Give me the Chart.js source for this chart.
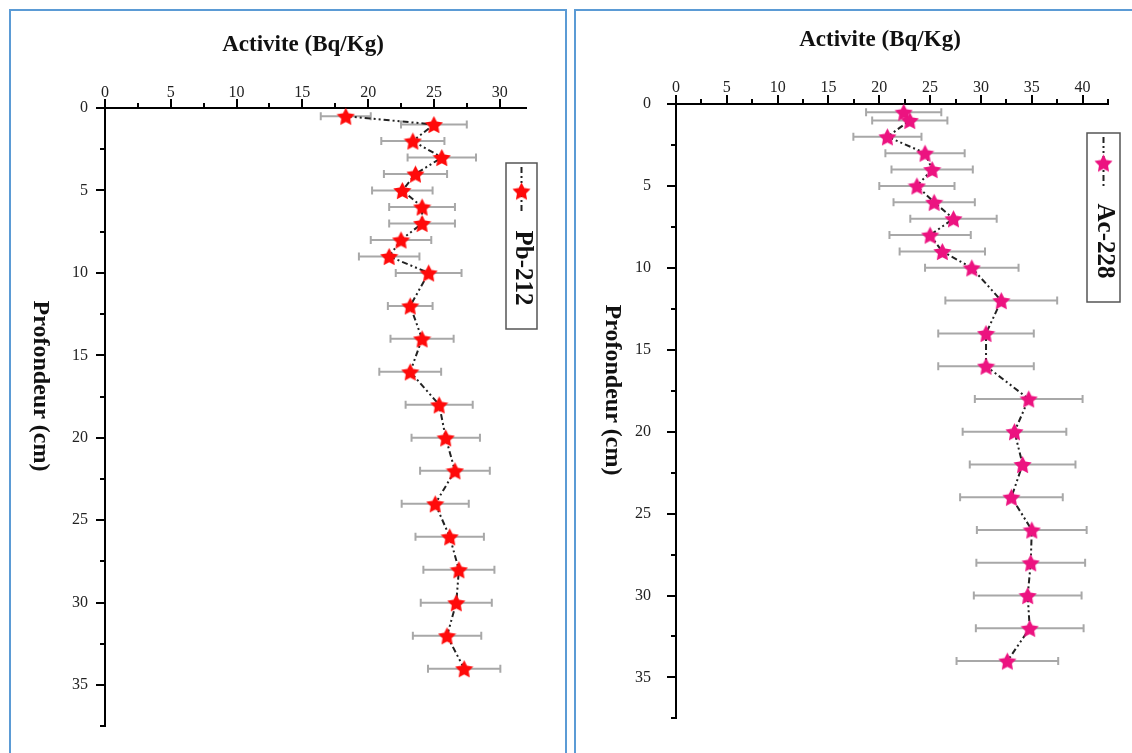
<!DOCTYPE html>
<html>
<head>
<meta charset="utf-8">
<script src="https://cdn.jsdelivr.net/npm/chart.js@4.4.1/dist/chart.umd.min.js"></script>
<style>
  body { margin: 0; background: #fff; width: 1132px; height: 753px; overflow: hidden; position: relative; }
  .panel { position: absolute; border: 2.5px solid #5b9bd5; border-bottom: none; }
  canvas { position: absolute; top: 0; }
</style>
</head>
<body>
<div class="panel" style="left:9px;top:9px;width:554px;height:760px"></div>
<div class="panel" style="left:574px;top:9px;width:570px;height:760px"></div>
<canvas id="pb" style="left:0" width="566" height="753"></canvas>
<canvas id="ac" style="left:570px" width="562" height="753"></canvas>
<script>
// depth of each sample (cm)
const depths = [0.5, 1, 2, 3, 4, 5, 6, 7, 8, 9, 10, 12, 14, 16, 18, 20, 22, 24, 26, 28, 30, 32, 34];

// Pb-212 activity (Bq/Kg) and its uncertainty
const pbActivity = [18.3, 25.0, 23.4, 25.6, 23.6, 22.6, 24.1, 24.1, 22.5, 21.6, 24.6, 23.2, 24.1, 23.2, 25.4, 25.9, 26.6, 25.1, 26.2, 26.9, 26.7, 26.0, 27.3];
const pbError = [1.9, 2.5, 2.4, 2.6, 2.4, 2.3, 2.5, 2.5, 2.3, 2.3, 2.5, 1.7, 2.4, 2.35, 2.55, 2.6, 2.65, 2.55, 2.6, 2.7, 2.7, 2.6, 2.75];

// Ac-228 activity (Bq/Kg) and its uncertainty
const acActivity = [22.4, 23.0, 20.8, 24.5, 25.2, 23.7, 25.4, 27.3, 25.0, 26.2, 29.1, 32.0, 30.5, 30.5, 34.7, 33.3, 34.1, 33.0, 35.0, 34.9, 34.6, 34.8, 32.6];
const acError = [3.7, 3.7, 3.35, 3.9, 4.0, 3.7, 4.0, 4.25, 4.0, 4.2, 4.6, 5.5, 4.7, 4.7, 5.3, 5.1, 5.2, 5.05, 5.4, 5.35, 5.3, 5.3, 5.0];

// tick positions (labels only on multiples of 5)
const pbXTicks = [0, 2.5, 5, 7.5, 10, 12.5, 15, 17.5, 20, 22.5, 25, 27.5, 30];
const acXTicks = [0, 2.5, 5, 7.5, 10, 12.5, 15, 17.5, 20, 22.5, 25, 27.5, 30, 32.5, 35, 37.5, 40, 42.5];
const depthTicks = [0, 2.5, 5, 7.5, 10, 12.5, 15, 17.5, 20, 22.5, 25, 27.5, 30, 32.5, 35, 37.5];

const xTitle = 'Activite (Bq/Kg)';
const yTitle = 'Profondeur (cm)';
const SERIF = "'Liberation Serif', 'DejaVu Serif', serif";

function makeStar(color, size) {
    const c = document.createElement('canvas');
    c.width = size; c.height = size;
    const g = c.getContext('2d');
    const R = size / 2, r = R * 0.5;
    const cx = size / 2, cy = size / 2 + size * 0.05;
    g.beginPath();
    for (let i = 0; i < 10; i++) {
        const a = -Math.PI / 2 + i * Math.PI / 5;
        const rad = i % 2 ? r : R;
        g.lineTo(cx + rad * Math.cos(a), cy + rad * Math.sin(a));
    }
    g.closePath();
    g.fillStyle = color;
    g.fill();
    return c;
}

const lineDash = [6, 3, 2, 3, 2, 3];

// horizontal error bars, drawn under the line and stars
const errorBars = {
    id: 'errorBars',
    beforeDatasetsDraw(chart, args, opts) {
        const { ctx, scales: { x, y } } = chart;
        const data = chart.data.datasets[0].data;
        ctx.save();
        ctx.strokeStyle = '#a8a8a8';
        ctx.lineWidth = 2;
        data.forEach((p, i) => {
            const e = opts.errors[i];
            const x0 = x.getPixelForValue(p.x - e);
            const x1 = x.getPixelForValue(p.x + e);
            const py = y.getPixelForValue(p.y);
            ctx.beginPath();
            ctx.moveTo(x0, py); ctx.lineTo(x1, py);
            ctx.moveTo(x0, py - 4); ctx.lineTo(x0, py + 4);
            ctx.moveTo(x1, py - 4); ctx.lineTo(x1, py + 4);
            ctx.stroke();
        });
        ctx.restore();
    }
};

// tick marks: long on multiples of 5, short in between
const tickMarks = {
    id: 'tickMarks',
    afterDraw(chart) {
        const { ctx, scales: { x, y } } = chart;
        ctx.save();
        ctx.strokeStyle = '#000';
        ctx.lineWidth = 2;
        ctx.beginPath();
        x.ticks.forEach(t => {
            const px = Math.round(x.getPixelForValue(t.value));
            const len = t.value % 5 === 0 ? 9 : 5;
            ctx.moveTo(px, x.bottom); ctx.lineTo(px, x.bottom - len);
        });
        y.ticks.forEach(t => {
            const py = Math.round(y.getPixelForValue(t.value));
            const len = t.value % 5 === 0 ? 9 : 5;
            ctx.moveTo(y.right, py); ctx.lineTo(y.right - len, py);
        });
        ctx.stroke();
        ctx.restore();
    }
};

// axis titles and the vertical legend box
const decor = {
    id: 'decor',
    afterDraw(chart, args, o) {
        const ctx = chart.ctx;
        ctx.save();
        ctx.fillStyle = '#111';
        ctx.textAlign = 'center';
        ctx.textBaseline = 'middle';
        ctx.font = 'bold 23px ' + SERIF;
        ctx.fillText(xTitle, o.xTitle[0], o.xTitle[1]);

        ctx.save();
        ctx.translate(o.yTitle[0], o.yTitle[1]);
        ctx.rotate(Math.PI / 2);
        ctx.font = 'bold 24px ' + SERIF;
        ctx.fillText(yTitle, 0, 0);
        ctx.restore();

        const b = o.box;
        ctx.strokeStyle = '#555';
        ctx.lineWidth = 1.5;
        ctx.strokeRect(b[0], b[1], b[2], b[3]);
        const cx = b[0] + b[2] / 2;
        ctx.strokeStyle = '#222';
        ctx.lineWidth = 2;
        ctx.setLineDash(lineDash);
        ctx.beginPath();
        ctx.moveTo(cx, o.line[0]); ctx.lineTo(cx, o.line[1]);
        ctx.stroke();
        ctx.setLineDash([]);
        const s = o.star;
        ctx.drawImage(s, cx - s.width / 2, o.starY - s.height / 2);

        ctx.save();
        ctx.translate(cx + 1, o.labelY);
        ctx.rotate(Math.PI / 2);
        ctx.font = 'bold 25px ' + SERIF;
        ctx.fillStyle = '#111';
        ctx.fillText(o.label, 0, 0);
        ctx.restore();
        ctx.restore();
    }
};

function makeChart(id, label, values, errors, color, xTicks, xMax, pad, ticksPad, deco) {
    const star = makeStar(color, 19);
    const points = depths.map((d, i) => ({ x: values[i], y: d }));
    const tickFont = { family: SERIF, size: 16 };
    return new Chart(document.getElementById(id), {
        type: 'scatter',
        data: {
            datasets: [{
                label: label,
                data: points,
                showLine: true,
                borderColor: '#222',
                borderWidth: 2,
                borderDash: lineDash,
                pointStyle: star,
                clip: false
            }]
        },
        options: {
            responsive: false,
            animation: false,
            layout: { padding: pad },
            scales: {
                x: {
                    type: 'linear',
                    position: 'top',
                    min: 0,
                    max: xMax,
                    afterBuildTicks: s => { s.ticks = xTicks.map(v => ({ value: v })); },
                    afterFit: s => { s.height = 50; },
                    grid: { display: false, drawTicks: false },
                    border: { display: true, color: '#000', width: 2 },
                    ticks: {
                        autoSkip: false,
                        maxRotation: 0,
                        padding: ticksPad[0],
                        color: '#222',
                        font: tickFont,
                        callback: v => (v % 5 === 0 ? v : '')
                    }
                },
                y: {
                    type: 'linear',
                    reverse: true,
                    min: 0,
                    max: 37.5,
                    afterBuildTicks: s => { s.ticks = depthTicks.map(v => ({ value: v })); },
                    afterFit: s => { s.width = 60; },
                    grid: { display: false, drawTicks: false },
                    border: { display: true, color: '#000', width: 2 },
                    ticks: {
                        autoSkip: false,
                        padding: ticksPad[1],
                        color: '#222',
                        font: tickFont,
                        callback: v => (v % 5 === 0 ? v : '')
                    }
                }
            },
            plugins: {
                legend: { display: false },
                tooltip: { enabled: false },
                errorBars: { errors: errors },
                decor: Object.assign({ star: star, label: label }, deco)
            }
        },
        plugins: [errorBars, tickMarks, decor]
    });
}

makeChart('pb', 'Pb-212', pbActivity, pbError, '#ff0a0a', pbXTicks, 32,
    { left: 45, top: 58, right: 40, bottom: 22 }, [6, 17],
    { xTitle: [303, 45], yTitle: [40, 386], box: [506, 163, 31, 166], line: [167, 214], starY: 191, labelY: 268 });

makeChart('ac', 'Ac-228', acActivity, acError, '#ec1380', acXTicks, 42.5,
    { left: 46, top: 54, right: 24, bottom: 22 }, [7, 25],
    { xTitle: [310, 40], yTitle: [42, 390], box: [517, 133, 33, 169], line: [137, 188], starY: 163, labelY: 241 });
</script>
</body>
</html>
